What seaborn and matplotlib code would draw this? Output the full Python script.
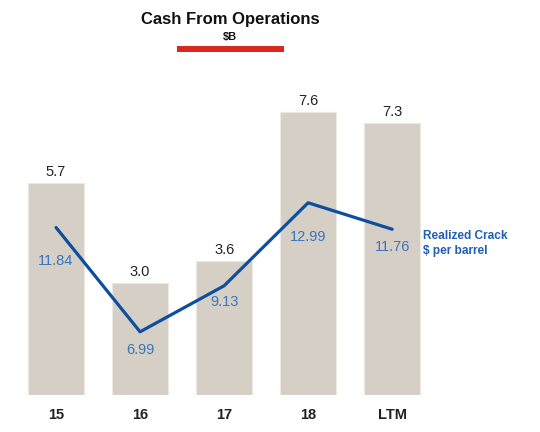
import seaborn as sns
import matplotlib.pyplot as plt
import numpy as np
from matplotlib.lines import Line2D

# --- Data ---
periods = ["15", "16", "17", "18", "LTM"]
cash_ops = [5.7, 3.0, 3.6, 7.6, 7.3]          # $B
crack = [11.84, 6.99, 9.13, 12.99, 11.76]      # $ per barrel

# --- Styling ---
sns.set_style("white")
plt.rcParams["font.family"] = ["Liberation Sans", "DejaVu Sans"]

bar_color = "#d6cfc5"
line_color = "#0d4f9e"
label_blue = "#3a74bd"

fig = plt.figure(figsize=(5.4, 4.32), dpi=100)
ax = fig.add_axes([0.026, 0.0856, 0.778, 0.7755])

sns.barplot(x=periods, y=cash_ops, color=bar_color, width=0.667,
            saturation=1, edgecolor="#ece8e2", linewidth=0.8, ax=ax)
ax.set_ylim(0, 9.0)
ax.set_xlim(-0.5, 4.5)
ax.bar_label(ax.containers[0], labels=[f"{v:.1f}" for v in cash_ops],
             padding=3, fontsize=10.5, color="#222222")

# --- Realized crack line on a twin axis ---
ax2 = ax.twinx()
xpos = np.arange(len(periods))
sns.lineplot(x=xpos, y=crack, color=line_color, linewidth=2.3, ax=ax2)
ax2.set_ylim(4.05, 19.63)

label_offsets = [-24, -13, -12, -24.5, -13]  # points below each point
for x, v, dy in zip(xpos, crack, label_offsets):
    ax2.annotate(f"{v:.2f}", (x, v), xytext=(0, dy), textcoords="offset points",
                 ha="center", va="center", fontsize=10.5, color=label_blue)

for a in (ax, ax2):
    for s in a.spines.values():
        s.set_visible(False)
    a.set_yticks([])
    a.set_ylabel("")
ax.tick_params(axis="x", length=0, pad=9, labelsize=10.5, labelcolor="#222222")
for t in ax.get_xticklabels():
    t.set_fontweight("bold")
ax.set_xlabel("")

# --- Titles and side label ---
fig.text(0.426, 0.954, "Cash From Operations", ha="center", va="center",
         fontsize=12, weight="bold", color="#111111")
fig.text(0.426, 0.914, "$B", ha="center", va="center",
         fontsize=8, weight="bold", color="#111111")
fig.add_artist(Line2D([0.328, 0.526], [0.887, 0.887], transform=fig.transFigure,
                      color="#d9281c", linewidth=4.3, solid_capstyle="butt"))
fig.text(0.783, 0.436, "Realized Crack\n$ per barrel", ha="left", va="center",
         fontsize=8.6, weight="bold", color="#1f5fb8", linespacing=1.3)

plt.savefig("out.png", dpi=100)
plt.close()
